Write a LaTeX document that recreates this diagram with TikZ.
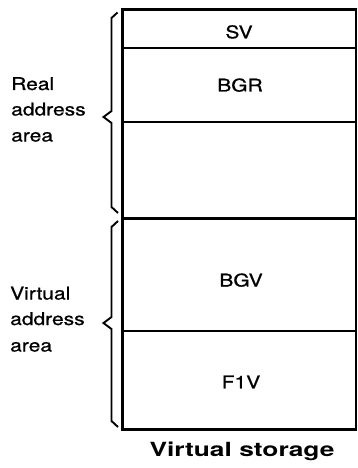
\documentclass[tikz,border=0pt]{standalone}
\usepackage{fontspec}
\setmainfont{TeX Gyre Heros}[FakeStretch=1.2,FakeBold=0.8]
\newfontfamily\captionfont{TeX Gyre Heros}[FakeStretch=1.35]
\begin{document}
\begin{tikzpicture}[x=1pt,y=-1pt,
  thinrule/.style={line width=2pt},
  thickrule/.style={line width=3pt},
  bracepath/.style={line width=1.9pt,line join=miter,line cap=butt},
  cell/.style={font=\fontsize{17.5}{21}\selectfont,anchor=base,inner sep=0pt},
  sidelabel/.style={font=\fontsize{17.5}{21}\selectfont,anchor=base west,inner sep=0pt},
  title/.style={font=\captionfont\bfseries\fontsize{19.5}{23}\selectfont,anchor=base,inner sep=0pt}]
\useasboundingbox (0,0) rectangle (357,468);

% storage column corners
\coordinate (tl) at (122,10);
\coordinate (tr) at (355.5,10);
\coordinate (bl) at (122,429);
\coordinate (br) at (355.5,429);

% outer frame
\draw[line width=3pt] (tl) -- (bl);
\draw[line width=2pt] (tr) -- (br);
\draw[line width=3pt] ([xshift=-1.5pt]tl) -- ([xshift=1pt]tr);
\draw[line width=3pt] ([xshift=-1.5pt]bl) -- ([xshift=1pt]br);

% partitions
\draw[thinrule] (122,48.3) -- (355.5,48.3);
\draw[thinrule] (122,122) -- (355.5,122);
\draw[thickrule] (122,218.3) -- (355.5,218.3);
\draw[thinrule] (122,330.5) -- (355.5,330.5);

% partition names
\node[cell] (sv)  at (239,38.3)  {SV};
\node[cell] (bgr) at (240,91.5)  {BGR};
\node[cell] (bgv) at (241,286.5) {BGV};
\node[cell] (f1v) at (241,388.3) {F1V};

% braces
\draw[bracepath] (117.5,12.5) -- (111.5,18) -- (111.5,111) -- (103.5,117)
  -- (111.5,123) -- (111.5,207) -- (118,213);
\draw[bracepath] (118,221) -- (111.5,227) -- (111.5,317) -- (103.5,323)
  -- (111.5,329) -- (111.5,421) -- (118,427);

% area labels
\node[sidelabel] (real1) at (11,90)    {Real};
\node[sidelabel] (real2) at (11,115.5) {address};
\node[sidelabel] (real3) at (11,141.5) {area};
\node[sidelabel] (virt1) at (10,299.5) {Virtual};
\node[sidelabel] (virt2) at (10,325)   {address};
\node[sidelabel] (virt3) at (10,351.5) {area};

% caption
\node[title] (caption) at (242,456.5) {Virtual storage};
\end{tikzpicture}
\end{document}
